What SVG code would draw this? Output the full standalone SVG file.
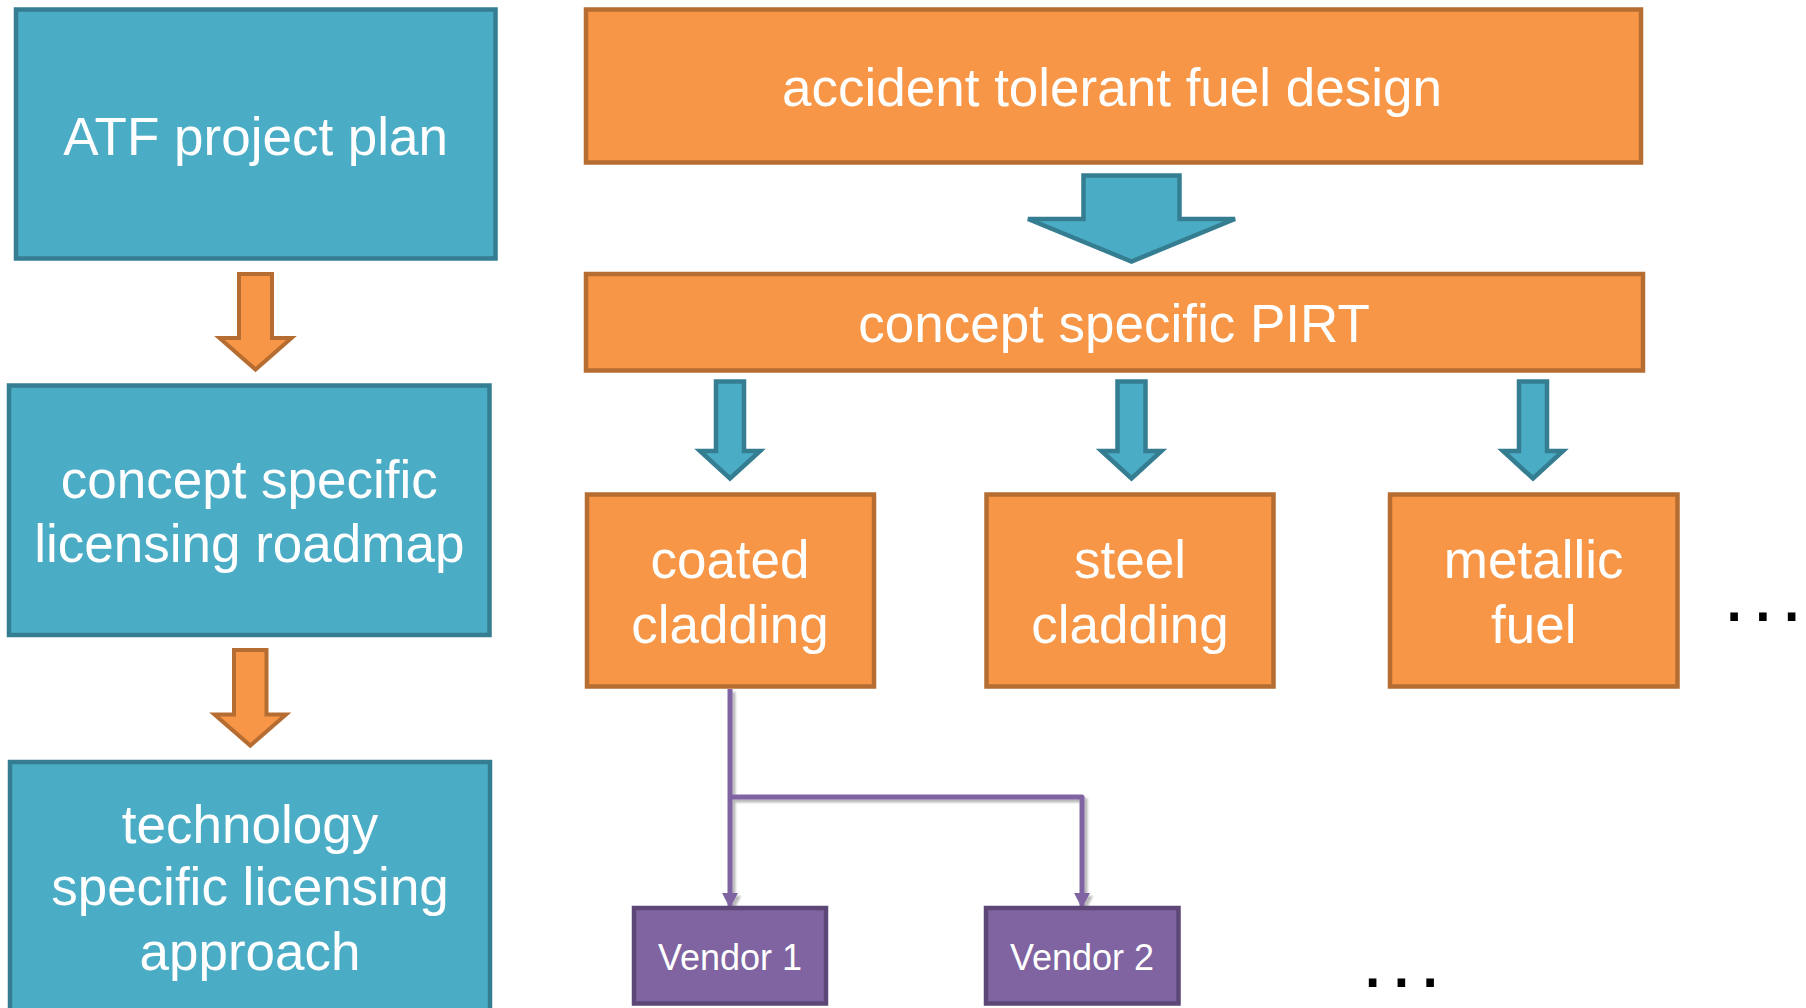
<svg xmlns="http://www.w3.org/2000/svg" width="1806" height="1008" viewBox="0 0 1806 1008">
<defs>
<style>
.blue{fill:#4BACC6;stroke:#357D91;stroke-width:4.5}
.orange{fill:#F79646;stroke:#B66D31;stroke-width:4.5}
.purple{fill:#8064A2;stroke:#5C4776;stroke-width:4.5}
.bt{font-family:"Liberation Sans",Arial,sans-serif;font-size:53px;fill:#FFFFFF;text-anchor:middle}
.vt{font-family:"Liberation Sans",Arial,sans-serif;font-size:36px;fill:#FFFFFF;text-anchor:middle}
.dots{font-family:"Liberation Sans",Arial,sans-serif;font-size:80px;fill:#000000;letter-spacing:6.5px}
.conn{fill:none;stroke:#8064A2;stroke-width:5;stroke-linejoin:round}
.barrow{fill:#4BACC6;stroke:#357D91;stroke-width:4.5;stroke-linejoin:miter}
.oarrow{fill:#F79646;stroke:#B66D31;stroke-width:4;stroke-linejoin:miter}
</style>
<marker id="ah" markerUnits="userSpaceOnUse" markerWidth="15" markerHeight="16" refX="14" refY="8" orient="auto">
<path d="M0,0 L15,8 L0,16 Z" fill="#8064A2"/>
</marker>
<filter id="sh" x="-10%" y="-10%" width="130%" height="130%">
<feDropShadow dx="3" dy="3" stdDeviation="1.2" flood-color="#000000" flood-opacity="0.28"/>
</filter>
<path id="sba" d="M-14,381.5 H14 V451 H30 L0,478.5 L-30,451 H-14 Z"/>
</defs>

<g id="connectors">
<path class="oarrow" d="M239,274 H272 V338 H291.5 L255.5,369.5 L219.5,338 H239 Z"/>
<path class="oarrow" d="M234,650 H266.5 V714.5 H286 L250.3,745.5 L214.5,714.5 H234 Z"/>
<path class="barrow" d="M1083.5,175.5 H1179.5 V219 H1235 L1131.5,261.5 L1028,219 H1083.5 Z"/>
<use href="#sba" class="barrow" transform="translate(730,0)"/>
<use href="#sba" class="barrow" transform="translate(1131.5,0)"/>
<use href="#sba" class="barrow" transform="translate(1533,0)"/>
<g filter="url(#sh)">
<path class="conn" d="M730,689 V907" marker-end="url(#ah)"/>
<path class="conn" d="M730,797 H1082 V907" marker-end="url(#ah)"/>
</g>
</g>

<g id="atf-plan">
<rect class="blue" x="16" y="9.5" width="479.5" height="249"/>
<text class="bt" x="255.6" y="155">ATF project plan</text>
</g>
<g id="roadmap">
<rect class="blue" x="9" y="385.5" width="480.5" height="249.5"/>
<text class="bt" x="249.3" y="498">concept specific</text>
<text class="bt" x="249.3" y="562">licensing roadmap</text>
</g>
<g id="approach">
<rect class="blue" x="10" y="762" width="480" height="260"/>
<text class="bt" x="250" y="842.6">technology</text>
<text class="bt" x="250" y="905.4">specific licensing</text>
<text class="bt" x="250" y="969.5">approach</text>
</g>
<g id="atf-design">
<rect class="orange" x="586" y="9.5" width="1055" height="153"/>
<text class="bt" x="1112" y="106">accident tolerant fuel design</text>
</g>
<g id="pirt">
<rect class="orange" x="586" y="274" width="1057" height="96.5"/>
<text class="bt" x="1114" y="341.7">concept specific PIRT</text>
</g>
<g id="coated">
<rect class="orange" x="587" y="494.5" width="287" height="192"/>
<text class="bt" x="730" y="578">coated</text>
<text class="bt" x="730" y="643">cladding</text>
</g>
<g id="steel">
<rect class="orange" x="986.5" y="494.5" width="287" height="192"/>
<text class="bt" x="1130" y="578">steel</text>
<text class="bt" x="1130" y="643">cladding</text>
</g>
<g id="metallic">
<rect class="orange" x="1390" y="494.5" width="287.5" height="192"/>
<text class="bt" x="1533.7" y="578">metallic</text>
<text class="bt" x="1533.7" y="643">fuel</text>
</g>
<g id="vendor1">
<rect class="purple" x="634" y="908" width="192" height="95.5"/>
<text class="vt" x="730" y="969.5">Vendor 1</text>
</g>
<g id="vendor2">
<rect class="purple" x="986" y="908" width="192.5" height="95.5"/>
<text class="vt" x="1082" y="969.5">Vendor 2</text>
</g>
<g id="more-concepts">
<text class="dots" x="1723" y="621">...</text>
</g>
<g id="more-vendors">
<text class="dots" x="1361.5" y="987">...</text>
</g>
</svg>
